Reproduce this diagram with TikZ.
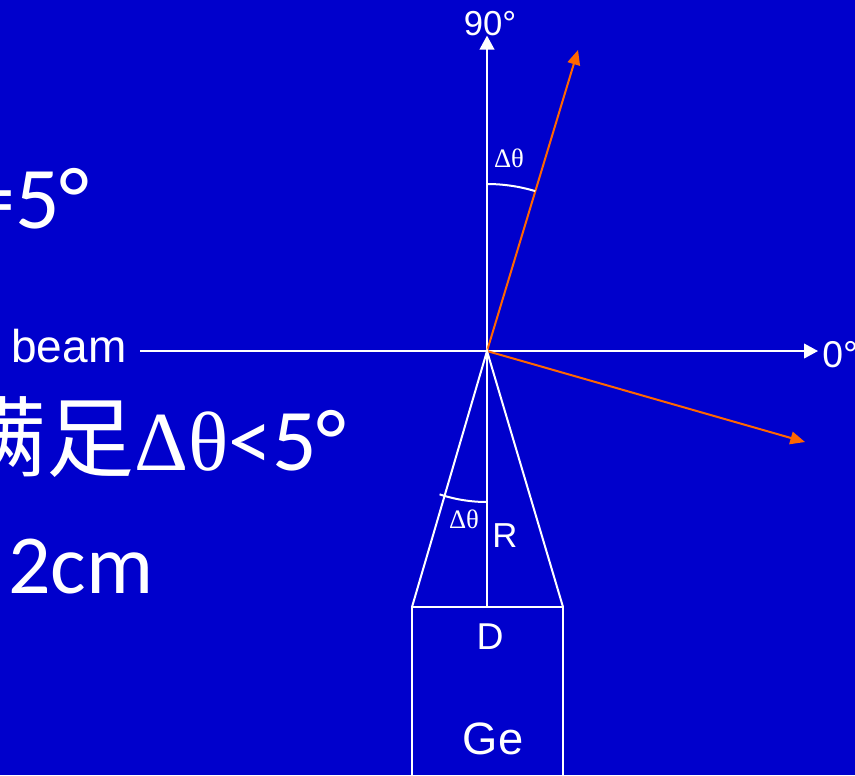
\documentclass[tikz,border=0pt]{standalone}
\usepackage{fontspec}
\setmainfont{Liberation Sans}
\newfontfamily\calfont{Carlito}
\newfontfamily\serfont{Liberation Serif}
\newfontfamily\cjkfont{Noto Sans CJK SC}
\usetikzlibrary{arrows.meta}
\definecolor{slide}{HTML}{0000CC}
\definecolor{ray}{HTML}{FF6600}

\begin{document}
\begin{tikzpicture}[x=0.75pt,y=-0.75pt,
  wline/.style={white,line width=1.5pt},
  rline/.style={ray,line width=1.5pt,-{Triangle[length=11pt,width=9.5pt]}},
  tip/.style={-{Triangle[length=10.5pt,width=11pt]}},
  lbl/.style={text=white,inner sep=0pt},
  big/.style={lbl,anchor=base west,font=\calfont\fontsize{66pt}{70pt}\selectfont}]
  \useasboundingbox (0,0) rectangle (855,775);
  \clip (0,0) rectangle (855,775);
  \fill[slide] (0,0) rectangle (855,775);
  % slide text, cut at the left edge
  \node[big] (cond) at (-29,228) {=5°};
  \node[big] (req) at (-42,470) {{\cjkfont 满足}{\serfont\fontsize{63pt}{68pt}\selectfont Δθ}<5°};
  \node[big,font=\calfont\fontsize{63pt}{68pt}\selectfont] (dist) at (8,593) {2cm};
  % axes
  \coordinate (O) at (487,351);
  \node[lbl,anchor=base east,inner xsep=10pt,font=\fontsize{34.5pt}{38pt}\selectfont] (beam) at (140,362) {beam};
  \node[lbl,anchor=base west,inner xsep=3pt,font=\fontsize{28pt}{32pt}\selectfont] (zero) at (818,367) {0°};
  \node[lbl,anchor=base,font=\fontsize{26pt}{30pt}\selectfont] (ninety) at (490,35) {90°};
  \draw[wline,tip] (beam.east |- O) -- (zero.west |- O);
  \draw[wline,tip] (O) -- (ninety.south -| O);
  % scattered rays
  \coordinate (up) at (578,50);
  \coordinate (down) at (805,442);
  \draw[rline] (O) -- (up);
  \draw[rline] (O) -- (down);
  \draw[wline] (O) ++(-90:167) arc[start angle=-90,end angle=-73.2,radius=167];
  \node[lbl,font=\serfont\fontsize{20pt}{23pt}\selectfont] (dtop) at (509,158) {Δθ};
  % detector cone
  \coordinate (DL) at (412,607);
  \coordinate (DR) at (563,607);
  \coordinate (DM) at (487,607);
  \draw[wline] (DL) -- (O) -- (DR);
  \draw[wline] (O) -- (DM);
  \draw[wline] (DL) -- (DR);
  \draw[wline] (DL) -- ++(0,200);
  \draw[wline] (DR) -- ++(0,200);
  \draw[wline] (O) ++(90:151) arc[start angle=90,end angle=108.3,radius=151];
  \node[lbl,font=\serfont\fontsize{20pt}{23pt}\selectfont] (dbot) at (464,519) {Δθ};
  \node[lbl,font=\fontsize{26pt}{30pt}\selectfont] (R) at (505,536) {R};
  \node[lbl,font=\fontsize{28pt}{32pt}\selectfont] (D) at (490,637) {D};
  \node[lbl,font=\fontsize{34pt}{38pt}\selectfont] (Ge) at (493,739) {Ge};
\end{tikzpicture}
\end{document}
